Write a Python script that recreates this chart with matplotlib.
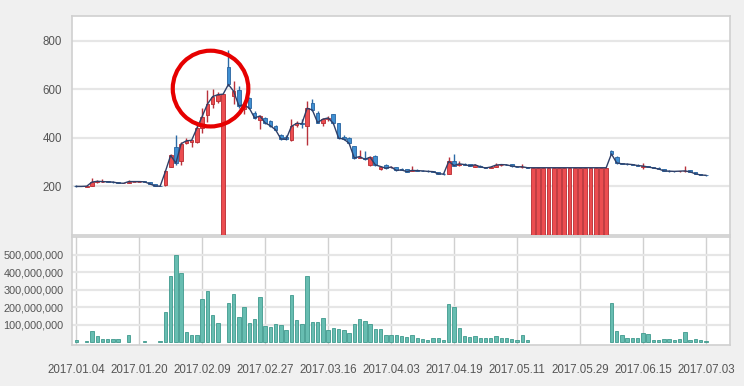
import numpy as np
import matplotlib
matplotlib.use('Agg')
import matplotlib.pyplot as plt
from matplotlib.patches import Ellipse
from matplotlib.ticker import FuncFormatter

plt.rcParams['font.family'] = ['Liberation Sans', 'DejaVu Sans']

# Daily candles, 2017.01.04 - 2017.07.03 (trading days)
opens = [202, 200, 199, 203, 218, 220, 221, 219, 218, 213,
         214, 220, 220, 221, 218, 210, 202, 206, 282, 364,
         303, 380, 385, 385, 440, 495, 540, 552, 0, 690,
         572, 597, 520, 563, 501, 474, 481, 468, 448, 410,
         404, 390, 455, 460, 447, 543, 501, 462, 478, 497,
         460, 405, 399, 365, 318, 318, 289, 326, 271, 289,
         280, 280, 270, 271, 264, 267, 265, 264, 262, 259,
         252, 252, 306, 290, 294, 291, 280, 286, 278, 277,
         281, 289, 290, 291, 282, 280, 278, 0, 0, 0,
         0, 0, 0, 0, 0, 0, 0, 0, 0, 0,
         0, 0, 346, 322, 296, 293, 292, 290, 282, 284,
         280, 276, 270, 264, 263, 262, 263, 266, 258, 250,
         247]
highs = [204, 200, 203, 234, 228, 229, 224, 221, 219, 213,
         226, 220, 220, 224, 219, 210, 203, 268, 335, 412,
         382, 398, 392, 452, 522, 598, 600, 588, 580, 760,
         634, 612, 545, 570, 510, 494, 488, 475, 452, 418,
         410, 479, 470, 476, 553, 560, 510, 480, 490, 500,
         462, 410, 402, 368, 351, 345, 325, 330, 284, 292,
         284, 282, 274, 273, 285, 270, 268, 266, 265, 260,
         254, 320, 334, 305, 298, 293, 292, 288, 280, 282,
         298, 292, 293, 292, 285, 292, 280, 277, 277, 277,
         277, 277, 277, 277, 277, 277, 277, 277, 277, 277,
         277, 277, 352, 325, 298, 295, 294, 292, 295, 286,
         282, 278, 272, 266, 265, 264, 285, 268, 259, 252,
         249]
lows = [199, 200, 198, 202, 215, 217, 217, 216, 213, 213,
        213, 220, 220, 218, 210, 200, 200, 203, 279, 290,
        287, 375, 362, 380, 420, 467, 525, 545, 0, 612,
        540, 525, 500, 518, 478, 437, 458, 445, 430, 392,
        390, 387, 445, 440, 372, 510, 460, 450, 470, 458,
        397, 390, 376, 315, 316, 308, 285, 286, 268, 273,
        276, 265, 266, 259, 262, 263, 262, 261, 259, 250,
        249, 250, 283, 284, 288, 283, 279, 280, 274, 275,
        280, 286, 287, 282, 280, 275, 276, 0, 0, 0,
        0, 0, 0, 0, 0, 0, 0, 0, 0, 0,
        0, 0, 328, 294, 291, 290, 288, 284, 272, 278,
        274, 270, 262, 261, 261, 260, 261, 258, 250, 246,
        245]
closes = [200, 200, 201, 218, 221, 220, 219, 218, 214, 213,
          220, 220, 220, 219, 211, 202, 201, 262, 328, 296,
          376, 388, 390, 440, 488, 539, 570, 578, 580, 620,
          592, 532, 536, 522, 482, 490, 462, 450, 433, 396,
          394, 447, 460, 458, 522, 515, 463, 477, 482, 460,
          399, 395, 378, 317, 323, 312, 320, 289, 282, 275,
          280, 266, 268, 261, 266, 265, 264, 262, 261, 252,
          251, 303, 286, 293, 290, 285, 289, 281, 276, 280,
          288, 290, 289, 284, 281, 281, 277, 277, 277, 277,
          277, 277, 277, 277, 277, 277, 277, 277, 277, 277,
          277, 277, 334, 297, 293, 292, 290, 286, 284, 280,
          276, 272, 264, 263, 262, 263, 264, 260, 252, 247,
          246]
# volume in millions of shares
volume_m = [10, 0, 8, 65, 35, 20, 20, 17, 15, 0,
            38, 0, 0, 8, 0, 0, 8, 170, 382, 497,
            394, 60, 38, 42, 245, 292, 153, 107, 0, 222,
            273, 143, 200, 107, 130, 256, 92, 84, 101, 96,
            67, 268, 126, 101, 382, 117, 117, 136, 67, 78,
            75, 67, 50, 101, 130, 118, 101, 73, 73, 38,
            38, 38, 33, 27, 38, 21, 19, 13, 21, 21,
            13, 216, 200, 82, 36, 27, 33, 25, 23, 21,
            36, 21, 21, 19, 13, 42, 13, 0, 0, 0,
            0, 0, 0, 0, 0, 0, 0, 0, 0, 0,
            0, 0, 225, 63, 42, 25, 25, 25, 50, 46,
            11, 11, 15, 15, 11, 15, 57, 11, 15, 11,
            8]
tick_labels = ['2017.01.04', '2017.01.20', '2017.02.09', '2017.02.27',
               '2017.03.16', '2017.04.03', '2017.04.19', '2017.05.11',
               '2017.05.29', '2017.06.15', '2017.07.03']

x = np.arange(len(closes))
o = np.array(opens)
c = np.array(closes)
up = c >= o
vol = np.array(volume_m) * 1e6
traded = vol > 0

fig = plt.figure(figsize=(7.44, 3.86), dpi=100, facecolor='#f0f0f0')
ax1 = fig.add_axes([0.0968, 0.3912, 0.8844, 0.5674])
ax2 = fig.add_axes([0.0968, 0.1062, 0.8844, 0.2811], sharex=ax1)

grid_c = '#e6e6e6'
text_c = '#555555'
for ax in (ax1, ax2):
    ax.set_facecolor('white')
    for s in ax.spines.values():
        s.set_color('#d0d0d0')
        s.set_linewidth(1.2)
    ax.tick_params(length=0, colors=text_c, labelsize=8.3)

# Price panel: wicks, bodies, close line
wick_col = np.where(up, '#b8323c', '#2b6aa6')
ax1.vlines(x, lows, highs, colors=wick_col, lw=1, zorder=2)
ax1.bar(x, np.abs(c - o), bottom=np.minimum(o, c), width=0.7,
        color=np.where(up, '#ec4d50', '#3f8fd2'),
        edgecolor=np.where(up, '#b82a30', '#2763a0'), lw=0.6, zorder=3)
ax1.plot(x, closes, color='#2f3f68', lw=1, zorder=4)

ax1.set_ylim(0, 902)
ax1.set_yticks([200, 400, 600, 800])
ax1.yaxis.grid(True, color=grid_c, lw=1.6)
ax1.set_axisbelow(True)
ax1.tick_params(axis='y', pad=7)
ax1.tick_params(axis='x', labelbottom=False)

# Highlight circle
ax1.add_patch(Ellipse((25.6, 603), 14.4, 312, fill=False, ec='#e60000', lw=3, zorder=5))

# Volume panel (days without trades have no bar)
ax2.bar(x[traded], vol[traded], width=0.65, color='#67bdb1',
        edgecolor='#3f9a8d', lw=0.6, zorder=3)
ax2.set_ylim(-17e6, 606e6)
ax2.set_yticks([1e8, 2e8, 3e8, 4e8, 5e8])
ax2.yaxis.set_major_formatter(FuncFormatter(lambda v, p: f'{int(v):,}'))
ax2.yaxis.grid(True, color=grid_c, lw=1.6)
ax2.xaxis.grid(True, color='#d0d0d0', lw=1)
ax2.set_axisbelow(True)
ax2.tick_params(axis='y', pad=6, labelsize=7.8)
ax2.tick_params(axis='x', pad=14)

ax2.set_xticks(np.arange(0, len(closes), 12))
ax2.set_xticklabels(tick_labels)
ax2.set_xlim(-0.8, 124.6)

plt.savefig('out.png', dpi=100, facecolor=fig.get_facecolor())
